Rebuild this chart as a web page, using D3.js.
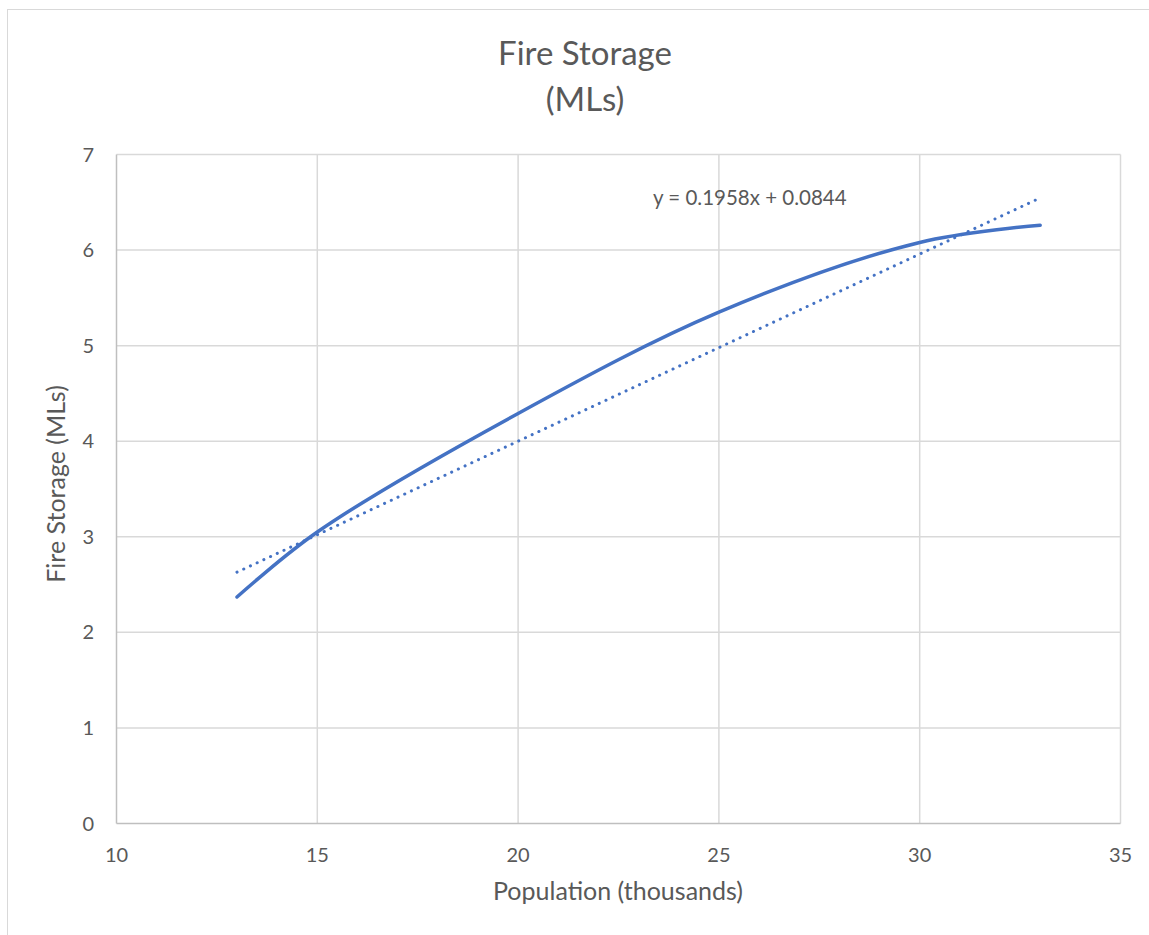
<!DOCTYPE html>
<html><head><meta charset="utf-8">
<script src="https://cdn.jsdelivr.net/npm/d3@7"></script>
<style>body{margin:0;background:#fff}svg{display:block}text{font-family:Lato,"Open Sans",sans-serif;fill:#595959}</style>
</head><body>
<script>
const population = [13, 15, 20, 25, 30, 33];
const fireStorage = [2.37, 3.05, 4.29, 5.35, 6.08, 6.26];
const trendSlope = 0.1958;
const trendIntercept = 0.0844;
const xTicks = [10, 15, 20, 25, 30, 35];
const yTicks = [0, 1, 2, 3, 4, 5, 6, 7];

const W = 1149, H = 935;
const svg = d3.select("body").append("svg").attr("width", W).attr("height", H);
svg.append("rect").attr("x", 7.5).attr("y", 9.5).attr("width", W).attr("height", H)
  .attr("fill", "none").attr("stroke", "#d9d9d9");

const x = d3.scaleLinear().domain([10, 35]).range([116.5, 1120.5]);
const y = d3.scaleLinear().domain([0, 7]).range([823.5, 154.5]);

// gridlines
svg.append("g").selectAll("line").data(yTicks.filter(d => d > 0)).join("line")
  .attr("x1", x(10)).attr("x2", x(35)).attr("y1", d => y(d)).attr("y2", d => y(d))
  .attr("stroke", "#d9d9d9").attr("stroke-width", 1.5);
svg.append("g").selectAll("line").data(xTicks.filter(d => d > 10)).join("line")
  .attr("y1", y(0)).attr("y2", y(7)).attr("x1", d => x(d)).attr("x2", d => x(d))
  .attr("stroke", "#d9d9d9").attr("stroke-width", 1.5);
// axis lines
svg.append("line").attr("x1", x(10)).attr("x2", x(10)).attr("y1", y(0)).attr("y2", y(7))
  .attr("stroke", "#bfbfbf").attr("stroke-width", 1.5);
svg.append("line").attr("x1", x(10)).attr("x2", x(35)).attr("y1", y(0)).attr("y2", y(0))
  .attr("stroke", "#bfbfbf").attr("stroke-width", 1.5);

// tick labels
svg.append("g").selectAll("text").data(xTicks).join("text")
  .attr("x", d => x(d)).attr("y", 862).attr("text-anchor", "middle")
  .attr("font-size", 20).text(d => d);
svg.append("g").selectAll("text").data(yTicks).join("text")
  .attr("x", 94).attr("y", d => y(d) + 7).attr("text-anchor", "end")
  .attr("font-size", 20).text(d => d);

// series
const pts = population.map((p, i) => [p, fireStorage[i]]);
svg.append("path").datum(pts)
  .attr("d", d3.line().x(d => x(d[0])).y(d => y(d[1])).curve(d3.curveCatmullRom.alpha(0.5)))
  .attr("fill", "none").attr("stroke", "#4472c4").attr("stroke-width", 3.5).attr("stroke-linecap", "round");

// trendline
const x0 = d3.min(population), x1 = d3.max(population);
svg.append("path").datum([x0, x1])
  .attr("d", d3.line().x(d => x(d)).y(d => y(trendSlope * d + trendIntercept)))
  .attr("fill", "none").attr("stroke", "#4472c4").attr("stroke-width", 3)
  .attr("stroke-linecap", "round").attr("stroke-dasharray", "0.1 7.3");

svg.append("text").attr("x", 653).attr("y", 205).attr("font-size", 20.5)
  .text("y = 0.1958x + 0.0844");

// titles
svg.append("text").attr("x", 585).attr("y", 65).attr("text-anchor", "middle").attr("font-size", 33).text("Fire Storage");
svg.append("text").attr("x", 585).attr("y", 111).attr("text-anchor", "middle").attr("font-size", 33).text("(MLs)");
svg.append("text").attr("x", 618).attr("y", 900).attr("text-anchor", "middle").attr("font-size", 25).text("Population (thousands)");
svg.append("text").attr("transform", "translate(65,484) rotate(-90)").attr("text-anchor", "middle").attr("font-size", 25).text("Fire Storage (MLs)");
</script>
</body></html>
